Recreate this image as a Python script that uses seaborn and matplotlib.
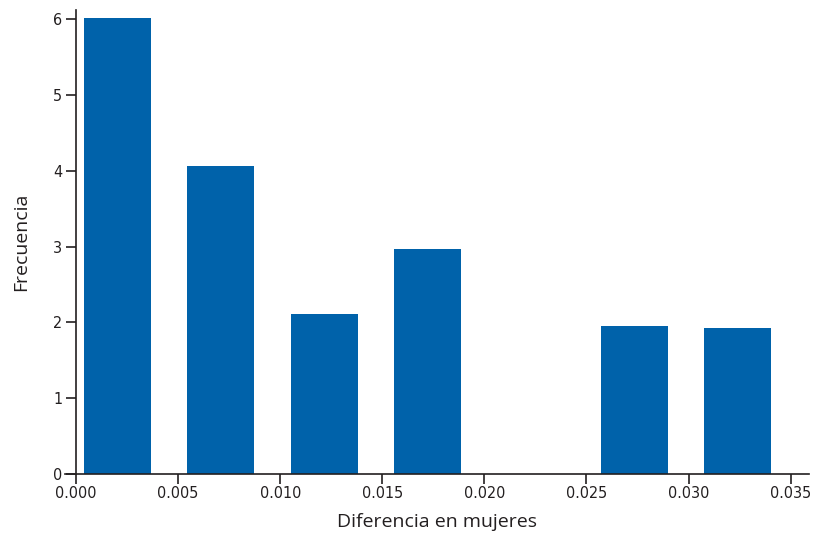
from matplotlib import pyplot as plt
import numpy as np
import seaborn as sns

# ==============================================================================
# Data
# ==============================================================================
bin_centers = [0.00203, 0.00708, 0.01213, 0.01723, 0.02233, 0.02733, 0.03243]
frequencies = [6.01, 4.06, 2.11, 2.97, 0.0, 1.95, 1.93]
bin_edges = [-0.00051, 0.00456, 0.00962, 0.01468, 0.01975, 0.02482, 0.02988, 0.03495]
x_ticks = [0.000, 0.005, 0.010, 0.015, 0.020, 0.025, 0.030, 0.035]
y_ticks = [0, 1, 2, 3, 4, 5, 6]

BAR_COLOR = "#0062AA"
AXIS_COLOR = "#231F20"

sns.set_style("white")
plt.rcParams['font.family'] = ['DejaVu Sans']

fig = plt.figure(figsize=(8.24, 5.35), dpi=100)
ax = fig.add_axes([65 / 824, 61 / 535, 744 / 824, 464 / 535])

sns.histplot(
    x=bin_centers,
    weights=frequencies,
    bins=bin_edges,
    shrink=0.65,
    color=BAR_COLOR,
    alpha=1,
    edgecolor="none",
    linewidth=0,
    ax=ax,
)

ax.set_xlim(-0.00054, 0.0359)
ax.set_ylim(0, 6.12)
ax.spines['left'].set_position(('data', 0))
ax.spines['top'].set_visible(False)
ax.spines['right'].set_visible(False)
for side in ['left', 'bottom']:
    ax.spines[side].set_color(AXIS_COLOR)
    ax.spines[side].set_linewidth(1.2)

ax.set_xticks(x_ticks)
ax.set_xticklabels([f"{t:.3f}" for t in x_ticks])
ax.set_yticks(y_ticks)
ax.set_yticklabels([str(t) for t in y_ticks])
ax.tick_params(axis='both', direction='out', length=7, width=1.2,
               bottom=True, left=True,
               color=AXIS_COLOR, labelsize=11.5, labelcolor=AXIS_COLOR)
ax.tick_params(axis='x', pad=2)
ax.tick_params(axis='y', pad=3)
for lbl in ax.get_xticklabels() + ax.get_yticklabels():
    lbl.set_fontstretch('condensed')

ax.set_xlabel('Diferencia en mujeres', fontsize=14, color=AXIS_COLOR,
              family=['Open Sans', 'DejaVu Sans'], labelpad=8)
ax.set_ylabel('Frecuencia', fontsize=14, color=AXIS_COLOR,
              family=['Open Sans', 'DejaVu Sans'])
ax.yaxis.set_label_coords(-0.047, 0.5)

fig.savefig("out.png", dpi=100)
